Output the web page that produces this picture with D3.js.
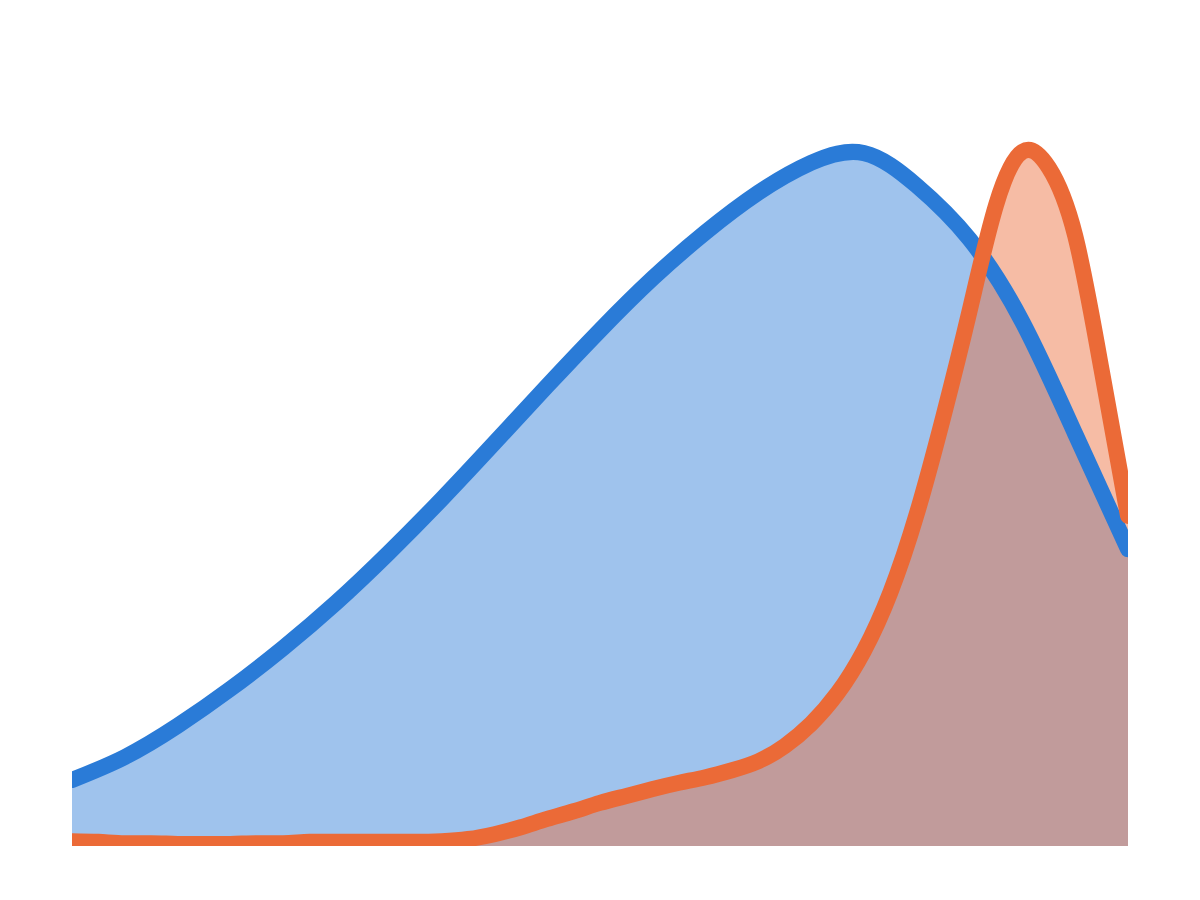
<!DOCTYPE html>
<html>
<head>
<meta charset="utf-8">
<script src="https://cdn.jsdelivr.net/npm/d3@7"></script>
<style>
  html, body { margin: 0; padding: 0; background: #fff; }
</style>
</head>
<body>
<div id="chart"></div>
<script>
// two density curves (x on a 0-100 scale, y relative to peak)
const blueX = [0, 5, 10, 15, 20, 25, 30, 35, 40, 45, 50, 55, 60, 65, 70, 75, 80, 85, 90, 95, 100];
const blueY = [0.095, 0.128, 0.173, 0.226, 0.285, 0.350, 0.422, 0.499, 0.580, 0.662, 0.742,
  0.817, 0.883, 0.940, 0.983, 0.997, 0.950, 0.873, 0.754, 0.593, 0.427];

const orangeX = [0, 2.5, 5, 7.5, 10, 12.5, 15, 17.5, 20, 22.5, 25, 27.5, 30, 32.5, 35, 37.5, 40, 42.5, 45, 47.5,
  50, 52.5, 55, 57.5, 60, 62.5, 65, 67.5, 70, 72.5, 75, 77.5, 80, 82.5, 85, 87.5, 90, 92.5, 95, 97.5, 100];
const orangeY = [0.007, 0.006, 0.004, 0.004, 0.003, 0.003, 0.003, 0.004, 0.004, 0.006, 0.006, 0.006, 0.006, 0.006, 0.007, 0.010, 0.017, 0.027, 0.039, 0.050,
  0.062, 0.072, 0.082, 0.091, 0.099, 0.109, 0.122, 0.144, 0.176, 0.220, 0.281, 0.365, 0.478, 0.617, 0.770, 0.922, 0.999, 0.976, 0.878, 0.685, 0.475];

const width = 1200;
const height = 900;
const margin = {top: 54, right: 72, bottom: 54, left: 72};

const x = d3.scaleLinear()
  .domain([0, 100])
  .range([margin.left, width - margin.right]);
const y = d3.scaleLinear()
  .domain([0, 1])
  .range([height - margin.bottom, 151]);

const blue = blueX.map((v, i) => ({x: v, y: blueY[i]}));
const orange = orangeX.map((v, i) => ({x: v, y: orangeY[i]}));

const svg = d3.select("#chart")
  .append("svg")
  .attr("width", width)
  .attr("height", height);

svg.append("clipPath")
  .attr("id", "plot-clip")
  .append("rect")
  .attr("x", margin.left)
  .attr("y", 0)
  .attr("width", width - margin.left - margin.right)
  .attr("height", height - margin.bottom);

const g = svg.append("g").attr("clip-path", "url(#plot-clip)");

const area = d3.area()
  .curve(d3.curveNatural)
  .x(d => x(d.x))
  .y0(y(0))
  .y1(d => y(d.y));

const line = d3.line()
  .curve(d3.curveNatural)
  .x(d => x(d.x))
  .y(d => y(d.y));

const blueColor = "#2a7bd7";
const orangeColor = "#eb6a37";

g.append("path")
  .datum(blue)
  .attr("fill", blueColor)
  .attr("fill-opacity", 0.45)
  .attr("d", area);

g.append("path")
  .datum(orange)
  .attr("fill", orangeColor)
  .attr("fill-opacity", 0.45)
  .attr("d", area);

g.append("path")
  .datum(blue)
  .attr("fill", "none")
  .attr("stroke", blueColor)
  .attr("stroke-width", 16)
  .attr("stroke-linejoin", "round")
  .attr("stroke-linecap", "round")
  .attr("d", line);

g.append("path")
  .datum(orange)
  .attr("fill", "none")
  .attr("stroke", orangeColor)
  .attr("stroke-width", 16)
  .attr("stroke-linejoin", "round")
  .attr("stroke-linecap", "round")
  .attr("d", line);
</script>
</body>
</html>
